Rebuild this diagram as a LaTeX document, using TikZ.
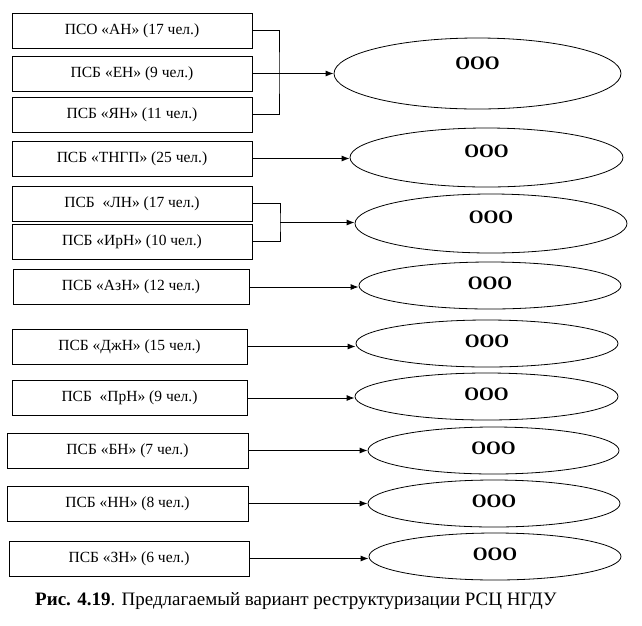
\documentclass[tikz,border=0pt]{standalone}
\usepackage{fontspec}
\setmainfont{Liberation Serif}
\usetikzlibrary{arrows.meta}
\usetikzlibrary{shapes.geometric}
\tikzset{unit/.style = {draw, line width = 1.0, minimum width = 240, minimum height = 35, inner sep = 0, font = \fontsize{15.5}{18}\selectfont}}
\tikzset{firm/.style = {draw, ellipse, line width = 0.8, minimum width = 262, minimum height = 47, inner sep = 0, text depth = #1, font = \fontsize{19}{21}\selectfont\bfseries}, firm/.default = 5pt}
\tikzset{link/.style = {line width = 0.9, -{Latex[length = 8pt, width = 6pt]}}}

\begin{document}
\begin{tikzpicture}[x = 1pt, y = -1pt]
    \useasboundingbox (0, 0) rectangle (642, 625);

    \node (an) [unit] at (132, 30.5) {ПСО «АН» (17 чел.)};
    \node (en) [unit] at (132, 73.5) {ПСБ «ЕН» (9 чел.)};
    \node (yan) [unit] at (132, 114.5) {ПСБ «ЯН» (11 чел.)};
    \node (tngp) [unit] at (132, 158.5) {ПСБ «ТНГП» (25 чел.)};
    \node (ln) [unit] at (132, 203.5) {ПСБ~~«ЛН» (17 чел.)};
    \node (irn) [unit] at (132, 241.5) {ПСБ «ИрН» (10 чел.)};
    \node (azn) [unit, minimum width = 236] at (131, 287) {ПСБ «АзН» (12 чел.)};
    \node (dzhn) [unit, minimum width = 235] at (129.5, 346.5) {ПСБ «ДжН» (15 чел.)};
    \node (prn) [unit, minimum width = 235] at (129.5, 398) {ПСБ~~«ПрН» (9 чел.)};
    \node (bn) [unit, minimum width = 241] at (127.5, 450.5) {ПСБ «БН» (7 чел.)};
    \node (nn) [unit, minimum width = 241] at (127.5, 503.5) {ПСБ «НН» (8 чел.)};
    \node (zn) [unit] at (129, 558.5) {ПСБ «ЗН» (6 чел.)};

    \node (ooo1) [firm = 21pt, minimum width = 287, minimum height = 71] at (477.5, 73.5) {ООО};
    \node (ooo2) [firm = 13pt, minimum width = 273, minimum height = 59] at (486.5, 157.5) {ООО};
    \node (ooo3) [firm = 12pt, minimum width = 272, minimum height = 59] at (491, 223.5) {ООО};
    \node (ooo4) [firm] at (490, 285.5) {ООО};
    \node (ooo5) [firm] at (487, 343.5) {ООО};
    \node (ooo6) [firm, minimum width = 263] at (486.5, 396.5) {ООО};
    \node (ooo7) [firm, minimum width = 251] at (493.5, 450.5) {ООО};
    \node (ooo8) [firm, minimum width = 252] at (494, 503.5) {ООО};
    \node (ooo9) [firm, minimum width = 252] at (495, 556.5) {ООО};

    \coordinate (forka) at (279, 73.5);
    \coordinate (forkb) at (280, 222.5);
    \draw [line width = 0.9] (an.east) -| (forka) |- (yan.east);
    \draw [link] (en.east) -- (en.east -| ooo1.west);
    \draw [link] (tngp.east) -- (tngp.east -| ooo2.west);
    \draw [line width = 0.9] (ln.east) -| (forkb) |- (irn.east);
    \draw [link] (forkb) -- (forkb -| ooo3.west);
    \draw [link] (azn.east) -- (azn.east -| ooo4.west);
    \draw [link] (dzhn.east) -- (dzhn.east -| ooo5.west);
    \draw [link] (prn.east) -- (prn.east -| ooo6.west);
    \draw [link] (bn.east) -- (bn.east -| ooo7.west);
    \draw [link] (nn.east) -- (nn.east -| ooo8.west);
    \draw [link] (zn.east) -- (zn.east -| ooo9.west);

    \node (caption) [anchor = base west, inner sep = 0, font = \fontsize{19}{22}\selectfont] at (35, 605) {\textbf{Рис. 4.19}. Предлагаемый вариант реструктуризации РСЦ НГДУ};
\end{tikzpicture}
\end{document}
